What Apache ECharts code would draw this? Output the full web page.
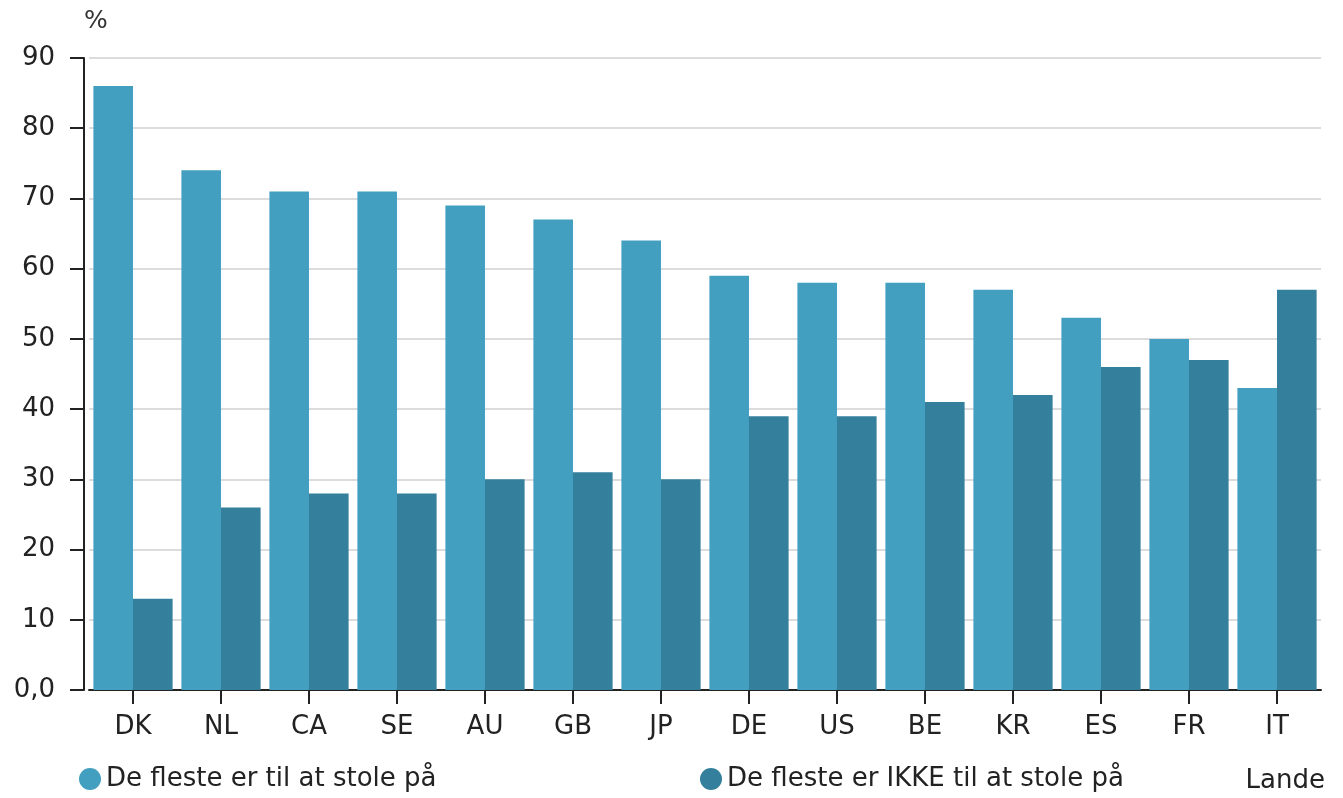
<!DOCTYPE html>
<html>
<head>
<meta charset="utf-8">
<script src="https://cdn.jsdelivr.net/npm/echarts@6/dist/echarts.min.js"></script>
<style>
html,body{margin:0;padding:0;background:#fff;}
#chart{width:1343px;height:798px;}
</style>
</head>
<body>
<div id="chart"></div>
<script>
const categories = ["DK","NL","CA","SE","AU","GB","JP","DE","US","BE","KR","ES","FR","IT"];
const trustName = "De fleste er til at stole på";
const noTrustName = "De fleste er IKKE til at stole på";
const trustValues = [86, 74, 71, 71, 69, 67, 64, 59, 58, 58, 57, 53, 50, 43];
const noTrustValues = [13, 26, 28, 28, 30, 31, 30, 39, 39, 41, 42, 46, 47, 57];
const yTicks = [0, 10, 20, 30, 40, 50, 60, 70, 80, 90];
const yUnit = "%";
const xUnit = "Lande";

const font = "DejaVu Sans, Liberation Sans, Arial, sans-serif";
const chart = echarts.init(document.getElementById('chart'), null, {renderer: 'canvas'});
chart.setOption({
  animation: false,
  backgroundColor: '#fff',
  textStyle: {fontFamily: font},
  grid: {left: 89, right: 22, top: 58, bottom: 108, containLabel: false},
  legend: [
    {data: [trustName], left: 74, top: 761, icon: 'circle', itemWidth: 22, itemHeight: 22, itemGap: 6,
     textStyle: {fontSize: 26, color: '#222', fontFamily: font}},
    {data: [noTrustName], left: 695, top: 761, icon: 'circle', itemWidth: 22, itemHeight: 22,
     textStyle: {fontSize: 26, color: '#222', fontFamily: font}}
  ],
  graphic: [
    {type: 'text', left: 84, top: 9, style: {text: yUnit, fontSize: 25, fill: '#333', fontFamily: font}},
    {type: 'text', right: 18, top: 768, style: {text: xUnit, fontSize: 26, fill: '#222', fontFamily: font}}
  ],
  xAxis: {
    type: 'category',
    data: categories,
    axisLine: {lineStyle: {color: '#222', width: 2}},
    axisTick: {show: true, alignWithLabel: true, length: 14, lineStyle: {color: '#222', width: 2}},
    axisLabel: {fontSize: 26, color: '#222', margin: 24, fontFamily: font}
  },
  yAxis: {
    type: 'value',
    min: yTicks[0], max: yTicks[yTicks.length - 1], interval: 10,
    offset: 5,
    axisLine: {show: true, lineStyle: {color: '#222', width: 2}},
    axisTick: {show: true, length: 14, lineStyle: {color: '#222', width: 2}},
    axisLabel: {fontSize: 26, color: '#222', margin: 29, fontFamily: font,
      formatter: v => v === 0 ? '0,0' : String(v)},
    splitLine: {show: true, lineStyle: {color: '#dcdcdc', width: 2}}
  },
  series: [
    {name: trustName, type: 'bar', data: trustValues, barGap: '0%', barCategoryGap: '10%',
     itemStyle: {color: '#429fc0'}},
    {name: noTrustName, type: 'bar', data: noTrustValues, barGap: '0%', barCategoryGap: '10%',
     itemStyle: {color: '#34809c'}}
  ]
});
</script>
</body>
</html>
